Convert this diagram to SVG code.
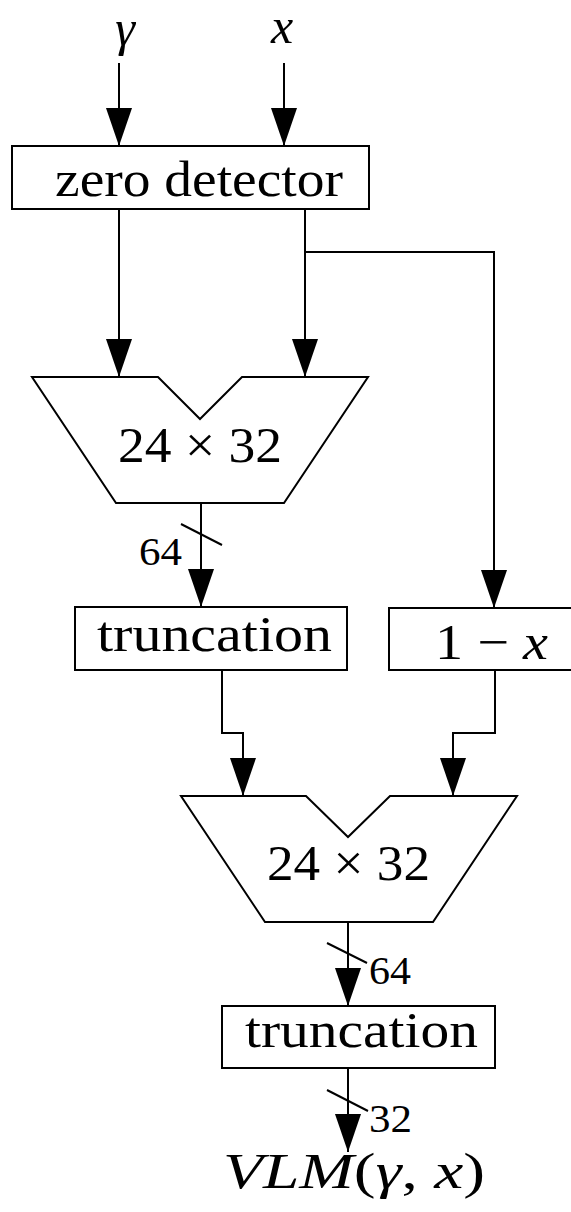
<svg xmlns="http://www.w3.org/2000/svg" width="571" height="1212" viewBox="0 0 571 1212">
  <style>
    .box { fill: #fff; stroke: #000; stroke-width: 2; }
    .wire { fill: none; stroke: #000; stroke-width: 2; }
    .lbl { font-family: "Liberation Serif", "DejaVu Serif", serif; font-size: 50px; fill: #000; }
    .small { font-family: "Liberation Serif", "DejaVu Serif", serif; font-size: 40px; fill: #000; }
    .it { font-style: italic; }
  </style>
  <defs>
    <marker id="arrow" markerUnits="userSpaceOnUse" viewBox="0 0 38 26" markerWidth="38" markerHeight="26" refX="38" refY="13" orient="auto">
      <path d="M0,0 L38,13 L0,26 z" fill="#000"/>
    </marker>
  </defs>

  <rect width="571" height="1212" fill="#fff"/>

  <!-- inputs -->
  <g id="in-gamma"><text class="lbl it" x="125" y="45" text-anchor="middle" font-size="46">γ</text></g>
  <g id="in-x"><text class="lbl it" x="282" y="43" text-anchor="middle">x</text></g>

  <!-- zero detector -->
  <g id="zero-detector">
    <rect class="box" x="12" y="146" width="357" height="63"/>
    <text class="lbl" x="55" y="196" textLength="288" lengthAdjust="spacingAndGlyphs">zero detector</text>
  </g>

  <!-- first multiplier -->
  <g id="mult1">
    <polygon class="box" points="32,377 158,377 200,419 242,377 368,377 284,503 116,503"/>
    <text class="lbl" x="118" y="462" textLength="164" lengthAdjust="spacingAndGlyphs">24 × 32</text>
  </g>

  <!-- first truncation -->
  <g id="trunc1">
    <rect class="box" x="75" y="607" width="272" height="63"/>
    <text class="lbl" x="97" y="651" textLength="235" lengthAdjust="spacingAndGlyphs">truncation</text>
  </g>

  <!-- complement -->
  <g id="one-minus-x">
    <rect class="box" x="389" y="608" width="210" height="62"/>
    <text class="lbl" x="435" y="659" textLength="113" lengthAdjust="spacingAndGlyphs">1 − <tspan class="it">x</tspan></text>
  </g>

  <!-- second multiplier -->
  <g id="mult2">
    <polygon class="box" points="181,796 306,796 348,837 390,796 517,796 433,922 265,922"/>
    <text class="lbl" x="267" y="880" textLength="163" lengthAdjust="spacingAndGlyphs">24 × 32</text>
  </g>

  <!-- second truncation -->
  <g id="trunc2">
    <rect class="box" x="222" y="1006" width="273" height="62"/>
    <text class="lbl" x="245" y="1047" textLength="233" lengthAdjust="spacingAndGlyphs">truncation</text>
  </g>

  <!-- output -->
  <g id="out">
    <text class="lbl" x="223" y="1188" font-size="54" textLength="262" lengthAdjust="spacingAndGlyphs"><tspan class="it">VLM</tspan>(<tspan class="it">γ</tspan>, <tspan class="it">x</tspan>)</text>
  </g>

  <!-- connectors -->
  <g id="connectors">
    <path class="wire" d="M119,63 V146" marker-end="url(#arrow)"/>
    <path class="wire" d="M284,63 V146" marker-end="url(#arrow)"/>
    <path class="wire" d="M119,209 V377" marker-end="url(#arrow)"/>
    <path class="wire" d="M305,209 V377" marker-end="url(#arrow)"/>
    <path class="wire" d="M305,252 H494 V608" marker-end="url(#arrow)"/>
    <path class="wire" d="M201,503 V607" marker-end="url(#arrow)"/>
    <path class="wire" d="M222,670 V733 H243 V796" marker-end="url(#arrow)"/>
    <path class="wire" d="M495,670 V733 H453 V796" marker-end="url(#arrow)"/>
    <path class="wire" d="M348,922 V1006" marker-end="url(#arrow)"/>
    <path class="wire" d="M348,1068 V1152" marker-end="url(#arrow)"/>
    <!-- bus-width ticks -->
    <path class="wire" d="M181,524 L222,545"/>
    <path class="wire" d="M327,943 L367,963"/>
    <path class="wire" d="M327,1090 L368,1111"/>
  </g>

  <!-- bus widths -->
  <g id="w64a"><text class="small" x="139" y="565" textLength="43" lengthAdjust="spacingAndGlyphs">64</text></g>
  <g id="w64b"><text class="small" x="369" y="984" textLength="42" lengthAdjust="spacingAndGlyphs">64</text></g>
  <g id="w32"><text class="small" x="369" y="1132" textLength="43" lengthAdjust="spacingAndGlyphs">32</text></g>
</svg>
